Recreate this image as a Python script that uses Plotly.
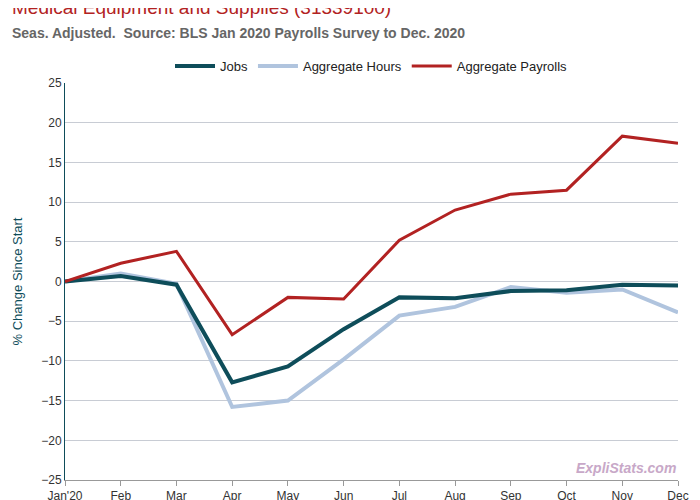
import plotly.graph_objects as go

months = ["Jan'20", "Feb", "Mar", "Apr", "May", "Jun", "Jul", "Aug", "Sep", "Oct", "Nov", "Dec"]
jobs = [0, 0.7, -0.4, -12.7, -10.7, -6.0, -2.0, -2.1, -1.2, -1.1, -0.4, -0.5]
hours = [0, 1.0, -0.3, -15.8, -15.0, -9.8, -4.3, -3.2, -0.7, -1.4, -1.0, -3.9]
payrolls = [0, 2.3, 3.8, -6.7, -2.0, -2.2, 5.2, 9.0, 11.0, 11.5, 18.3, 17.4]

fig = go.Figure()
fig.add_trace(go.Scatter(x=months, y=hours, name="Aggregate Hours", mode="lines",
                         line=dict(color="#b0c4de", width=4), legendrank=2))
fig.add_trace(go.Scatter(x=months, y=jobs, name="Jobs", mode="lines",
                         line=dict(color="#0e4d5a", width=4), legendrank=1))
fig.add_trace(go.Scatter(x=months, y=payrolls, name="Aggregate Payrolls", mode="lines",
                         line=dict(color="#b22222", width=3), legendrank=3))

fig.update_layout(
    width=700, height=500,
    paper_bgcolor="white", plot_bgcolor="white",
    font=dict(family="Liberation Sans, Arial", size=12, color="#333"),
    margin=dict(l=57, r=30, t=75, b=28, autoexpand=False),
    showlegend=True,
    legend=dict(orientation="h", x=0.5, xanchor="center", y=1.005, yanchor="bottom",
                font=dict(size=13, color="#222"), itemwidth=40),
    xaxis=dict(showgrid=False, showline=True, linecolor="#999", ticks="outside",
               ticklen=5, tickcolor="#999", range=[0, 11]),
    yaxis=dict(range=[-25, 25], dtick=5, gridcolor="#c8ccd4", zeroline=False,
               showline=True, linecolor="#0e4d5a", linewidth=1,
               title=dict(text="% Change Since Start", font=dict(color="#0e4d5a", size=13))),
    annotations=[
        dict(text="Medical Equipment and Supplies (31339100)", xref="paper", yref="paper",
             x=-0.09, y=1.19, xanchor="left", yanchor="middle", showarrow=False,
             font=dict(size=19, color="#b22222")),
        dict(text="<b>Seas. Adjusted.  Source: BLS Jan 2020 Payrolls Survey to Dec. 2020</b>",
             xref="paper", yref="paper", x=-0.09, y=1.125, xanchor="left", yanchor="middle",
             showarrow=False, font=dict(size=14, color="#666")),
        dict(text="<i><b>ExpliStats.com</b></i>", xref="paper", yref="paper",
             x=1.0, y=0.005, xanchor="right", yanchor="bottom", showarrow=False,
             font=dict(size=14, color="#c8a8c8")),
    ],
)

fig.write_html("out.html")
